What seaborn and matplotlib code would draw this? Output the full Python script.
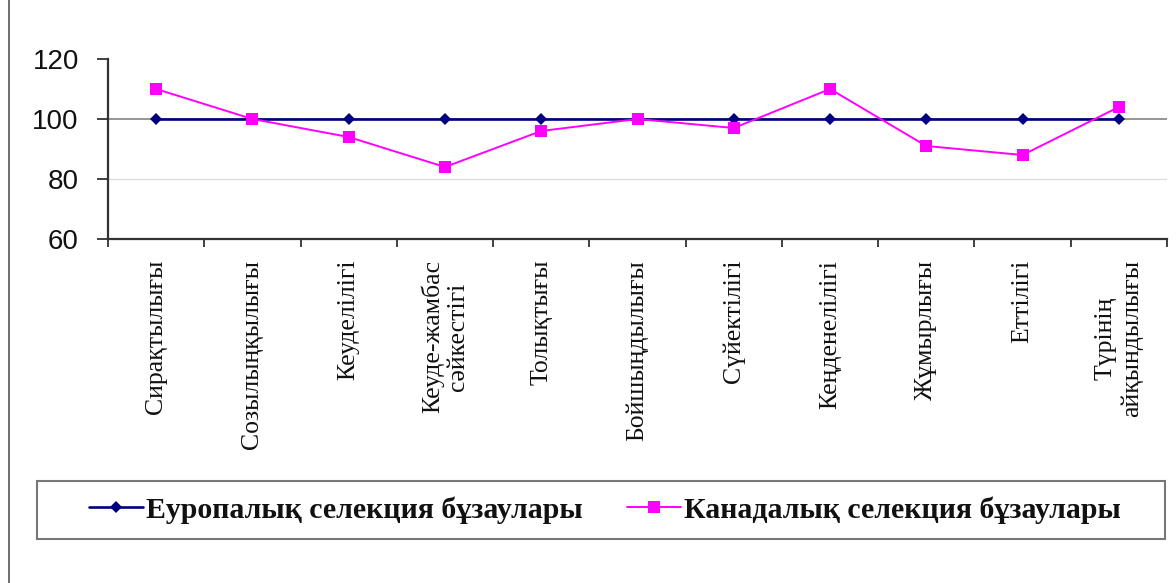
import numpy as np
import pandas as pd
import matplotlib
matplotlib.use("Agg")
import matplotlib.pyplot as plt
import seaborn as sns
from matplotlib.lines import Line2D
from matplotlib.patches import Rectangle
from matplotlib.ticker import FixedLocator, NullFormatter

# Exterior indicators of calves, % relative to the European selection group
categories = [
    "Сирақтылығы",
    "Созылыңқылығы",
    "Кеуделілігі",
    "Кеуде-жамбас\nсәйкестігі",
    "Толықтығы",
    "Бойшыңдылығы",
    "Сүйектілігі",
    "Кеңденелілігі",
    "Жұмырлығы",
    "Еттілігі",
    "Түрінің\nайқындылығы",
]
european = [100, 100, 100, 100, 100, 100, 100, 100, 100, 100, 100]
canadian = [110, 100, 94, 84, 96, 100, 97, 110, 91, 88, 104]
series_names = ["Еуропалық селекция бұзаулары", "Канадалық селекция бұзаулары"]
y_ticks = [60, 80, 100, 120]

sns.set_theme(style="white")
plt.rcParams["font.family"] = ["Liberation Sans", "DejaVu Sans"]

W, H = 1176, 583
fig = plt.figure(figsize=(W / 100, H / 100), dpi=100)
fig.patch.set_facecolor("white")
ax = fig.add_axes([108 / W, 1 - 239 / H, (1167 - 108) / W, 180 / H])

pos = np.arange(len(categories))
df_eu = pd.DataFrame({"pos": pos, "value": european})
df_ca = pd.DataFrame({"pos": pos, "value": canadian})

sns.lineplot(data=df_eu, x="pos", y="value", ax=ax, color="#000080",
             linewidth=1.9, marker="D", markersize=6.5, markeredgewidth=0,
             label=series_names[0], zorder=3)
sns.lineplot(data=df_ca, x="pos", y="value", ax=ax, color="#FF00FF",
             linewidth=1.4, marker="s", markersize=8.5, markeredgewidth=0,
             label=series_names[1], zorder=4)

ax.set_xlim(-0.5, len(categories) - 0.5)
ax.set_ylim(y_ticks[0], y_ticks[-1])
ax.set_xlabel("")
ax.set_ylabel("")

# y axis
ax.yaxis.set_major_locator(FixedLocator(y_ticks))
ax.set_yticklabels([str(v) for v in y_ticks])
ax.tick_params(axis="y", which="major", direction="out", length=8, width=1.3,
               color="#333333", pad=13, labelsize=20, labelcolor="#111111",
               left=True)
ax.yaxis.grid(True)
for val, gl in zip(y_ticks, ax.get_ygridlines()):
    if val == 100:
        gl.set_color("#8c8c8c")
        gl.set_linewidth(1.3)
    elif val == 80:
        gl.set_color("#dcdcdc")
        gl.set_linewidth(1.0)
    else:
        gl.set_visible(False)
ax.xaxis.grid(False)

# x axis: labels at category centres, tick marks at boundaries
ax.xaxis.set_major_locator(FixedLocator(pos))
ax.set_xticklabels(categories, rotation=90, va="top", ha="center",
                   multialignment="center",
                   family=["Liberation Serif", "DejaVu Serif"], fontsize=18.5,
                   color="#111111")
ax.xaxis.set_minor_locator(FixedLocator(np.arange(-0.5, len(categories), 1.0)))
ax.xaxis.set_minor_formatter(NullFormatter())
ax.tick_params(axis="x", which="major", length=0, pad=15, bottom=True)
ax.tick_params(axis="x", which="minor", direction="out", length=6, width=1.3,
               color="#333333", bottom=True)

for side in ("top", "right"):
    ax.spines[side].set_visible(False)
for side in ("left", "bottom"):
    ax.spines[side].set_color("#333333")
    ax.spines[side].set_linewidth(1.6)

# legend below the plot inside a framed box
handles, labels = ax.get_legend_handles_labels()
ax.get_legend().remove()
fig.legend(handles, labels, loc="center left",
           bbox_to_anchor=(62 / W, 1 - 510 / H), ncol=2, frameon=False,
           prop={"family": ["Liberation Serif", "DejaVu Serif"],
                 "weight": "bold", "size": 21.5},
           handlelength=1.8, handletextpad=0.1, columnspacing=1.5,
           labelcolor="#111111")
fig.add_artist(Rectangle((37 / W, 1 - 539 / H), (1165 - 37) / W, 58 / H,
                         transform=fig.transFigure, fill=False,
                         edgecolor="#777777", linewidth=1.5))

# left border of the chart area
fig.add_artist(Line2D([9 / W, 9 / W], [0, 1], transform=fig.transFigure,
                      color="#555555", linewidth=1.2))

fig.savefig("out.png", dpi=100, facecolor="white")
